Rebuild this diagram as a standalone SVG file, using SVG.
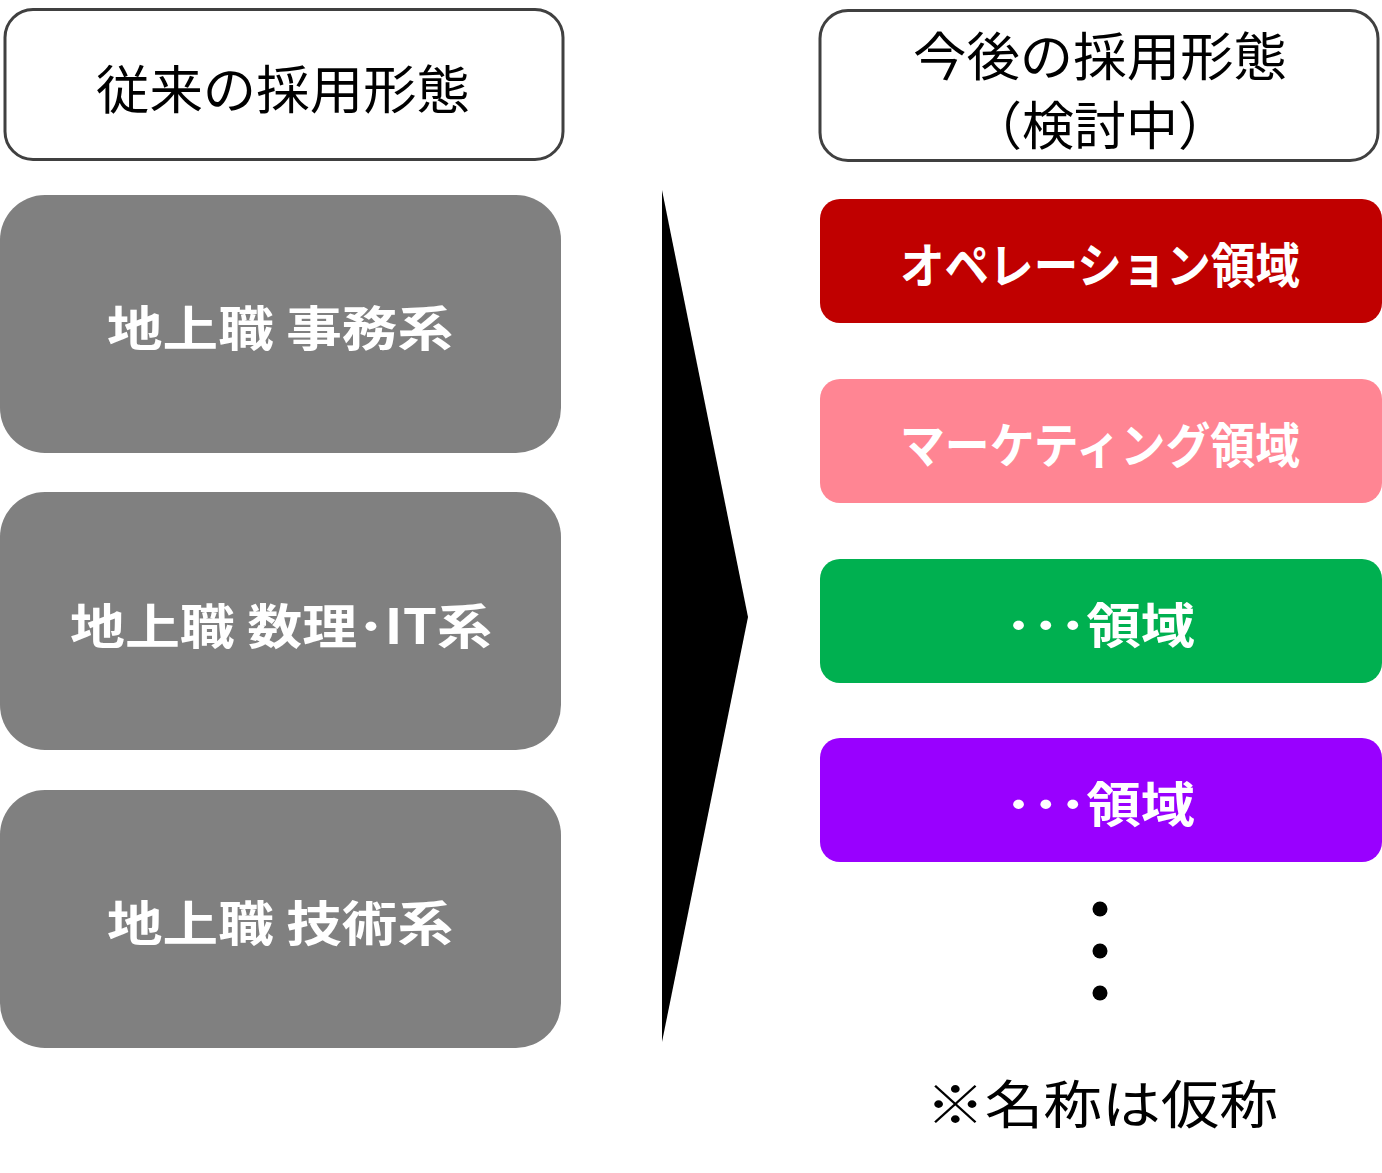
<svg xmlns="http://www.w3.org/2000/svg" width="1382" height="1173" viewBox="0 0 1382 1173">
<style>
.hdr{fill:#fff;stroke:#404040;stroke-width:3}
.hdrt{font-family:"Noto Sans CJK JP","Noto Sans",sans-serif;font-size:52px;fill:#000;text-anchor:middle}
.gray{fill:#808080}
.gt{font-family:"Noto Sans CJK JP","Noto Sans",sans-serif;font-size:48px;font-weight:bold;fill:#fff;text-anchor:middle}
.ct{font-family:"Noto Sans CJK JP","Noto Sans",sans-serif;font-size:48px;font-weight:bold;fill:#fff;text-anchor:middle}
</style>
<rect width="1382" height="1173" fill="#fff"/>
<g id="hdr-left">
<rect class="hdr" x="5" y="9.5" width="558" height="150" rx="28"/>
<text class="hdrt" x="283" y="109" textLength="374" lengthAdjust="spacingAndGlyphs">従来の採用形態</text>
</g>
<g id="hdr-right">
<rect class="hdr" x="820" y="10.5" width="558" height="150" rx="28"/>
<text class="hdrt" x="1100" y="76" font-size="49" textLength="374" lengthAdjust="spacingAndGlyphs">今後の採用形態</text>
<text class="hdrt" x="1100" y="145" font-size="49">（検討中）</text>
</g>
<g id="old1">
<rect class="gray" x="0" y="195" width="561" height="258" rx="45"/>
<text class="gt" x="280" y="346" textLength="346" lengthAdjust="spacingAndGlyphs">地上職 事務系</text>
</g>
<g id="old2">
<rect class="gray" x="0" y="492" width="561" height="258" rx="45"/>
<text class="gt" x="281" y="644" textLength="422" lengthAdjust="spacingAndGlyphs">地上職 数理･IT系</text>
</g>
<g id="old3">
<rect class="gray" x="0" y="790" width="561" height="258" rx="45"/>
<text class="gt" x="280" y="941" textLength="346" lengthAdjust="spacingAndGlyphs">地上職 技術系</text>
</g>
<g id="connectors">
<polygon points="662,190 748,617 662,1042" fill="#000"/>
</g>
<g id="new1">
<rect x="820" y="199" width="562" height="124" rx="20" fill="#C00000"/>
<text class="ct" x="1100" y="283" textLength="400" lengthAdjust="spacingAndGlyphs">オペレーション領域</text>
</g>
<g id="new2">
<rect x="820" y="379" width="562" height="124" rx="20" fill="#FF8593"/>
<text class="ct" x="1100" y="463" textLength="400" lengthAdjust="spacingAndGlyphs">マーケティング領域</text>
</g>
<g id="new3">
<rect x="820" y="559" width="562" height="124" rx="20" fill="#00B050"/>
<text class="ct" x="1100" y="643" textLength="190" lengthAdjust="spacingAndGlyphs">･･･領域</text>
</g>
<g id="new4">
<rect x="820" y="738" width="562" height="124" rx="20" fill="#9900FF"/>
<text class="ct" x="1100" y="822" textLength="190" lengthAdjust="spacingAndGlyphs">･･･領域</text>
</g>
<g id="more">
<circle cx="1100" cy="909" r="7.5" fill="#000"/>
<circle cx="1100" cy="951" r="7.5" fill="#000"/>
<circle cx="1100" cy="993" r="7.5" fill="#000"/>
</g>
<g id="note">
<text class="hdrt" x="1102" y="1124" font-size="56" textLength="352" lengthAdjust="spacingAndGlyphs">※名称は仮称</text>
</g>
</svg>
